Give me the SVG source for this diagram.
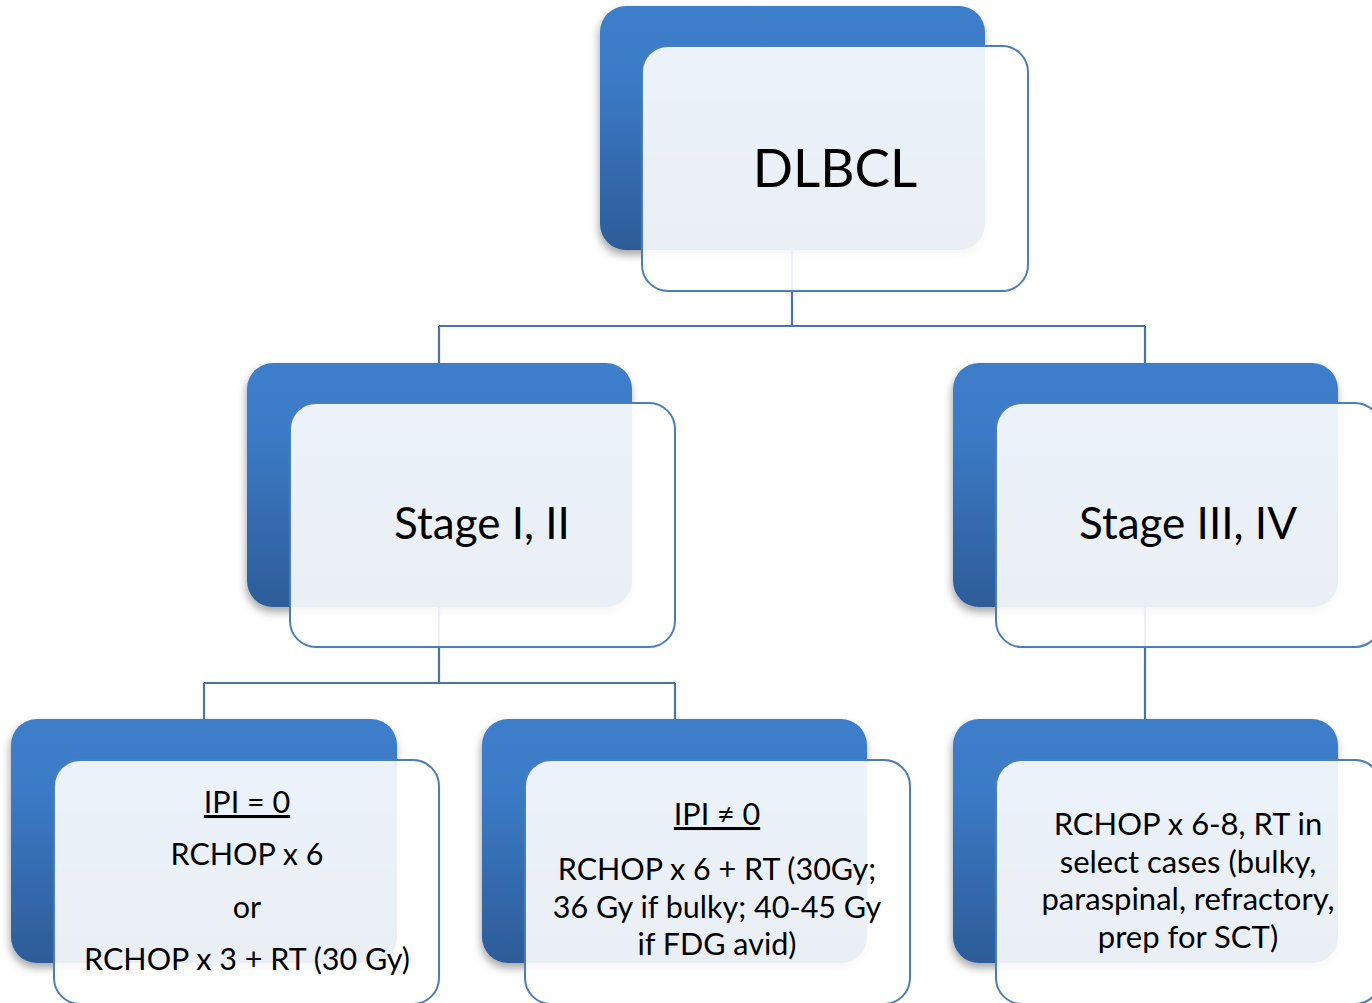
<svg xmlns="http://www.w3.org/2000/svg" width="1372" height="1003" viewBox="0 0 1372 1003">
<defs>
<linearGradient id="blue" x1="0" y1="0" x2="0" y2="1">
<stop offset="0" stop-color="#3D7ECB"/>
<stop offset="0.3" stop-color="#3B7AC6"/>
<stop offset="1" stop-color="#2D5C98"/>
</linearGradient>
<filter id="shadow" x="-10%" y="-10%" width="120%" height="125%">
<feDropShadow dx="-1" dy="5" stdDeviation="4" flood-color="#000" flood-opacity="0.35"/>
</filter>
</defs>
<style>
.back{fill:url(#blue);filter:url(#shadow)}
.front{fill:#ffffff;fill-opacity:0.9;stroke:#4A7EBB;stroke-width:2}
.conn{fill:none;stroke:#4A74A8;stroke-width:2.2}
text{font-family:Lato,"Open Sans","Liberation Sans",sans-serif;fill:#000;text-anchor:middle}
.big{font-size:53px}
.mid{font-size:44px}
.sm{font-size:31px}
.smr{font-size:30.5px}
.u{text-decoration:underline}
</style>
<rect width="1372" height="1003" fill="#ffffff"/>
<g id="connectors">
<path class="conn" d="M792,250 V326 M439,326 H1145 M439,326 V363 M1145,326 V363"/>
<path class="conn" d="M439,607 V683 M204,683 H675 M204,683 V719 M675,683 V719"/>
<path class="conn" d="M1145,607 V719"/>
</g>
<g id="node-dlbcl">
<rect class="back" x="600" y="6" width="385" height="244" rx="26"/>
<rect class="front" x="642" y="46" width="386" height="245" rx="26"/>
<text class="big" x="835" y="187">DLBCL</text>
</g>
<g id="node-stage12">
<rect class="back" x="247" y="363" width="385" height="244" rx="26"/>
<rect class="front" x="290" y="403" width="385" height="244" rx="26"/>
<text class="mid" x="482" y="539">Stage I, II</text>
</g>
<g id="node-stage34">
<rect class="back" x="953" y="363" width="385" height="244" rx="26"/>
<rect class="front" x="996" y="403" width="385" height="244" rx="26"/>
<text class="mid" x="1188" y="539">Stage III, IV</text>
</g>
<g id="node-ipi0">
<rect class="back" x="11" y="719" width="386" height="244" rx="26"/>
<rect class="front" x="54" y="760" width="385" height="244" rx="26"/>
<text class="smr u" x="247" y="813">IPI = 0</text>
<text class="smr" x="247" y="865">RCHOP x 6</text>
<text class="smr" x="247" y="918">or</text>
<text class="smr" x="247" y="970">RCHOP x 3 + RT (30 Gy)</text>
</g>
<g id="node-ipinot0">
<rect class="back" x="482" y="719" width="385" height="244" rx="26"/>
<rect class="front" x="525" y="760" width="385" height="244" rx="26"/>
<text class="smr u" x="717" y="825">IPI ≠ 0</text>
<text class="smr" x="717" y="880">RCHOP x 6 + RT (30Gy;</text>
<text class="smr" x="717" y="918">36 Gy if bulky; 40-45 Gy</text>
<text class="smr" x="717" y="955">if FDG avid)</text>
</g>
<g id="node-adv">
<rect class="back" x="953" y="719" width="385" height="244" rx="26"/>
<rect class="front" x="996" y="760" width="385" height="244" rx="26"/>
<text class="sm" x="1188" y="835">RCHOP x 6-8, RT in</text>
<text class="sm" x="1188" y="873">select cases (bulky,</text>
<text class="sm" x="1188" y="910">paraspinal, refractory,</text>
<text class="sm" x="1188" y="948">prep for SCT)</text>
</g>
</svg>
